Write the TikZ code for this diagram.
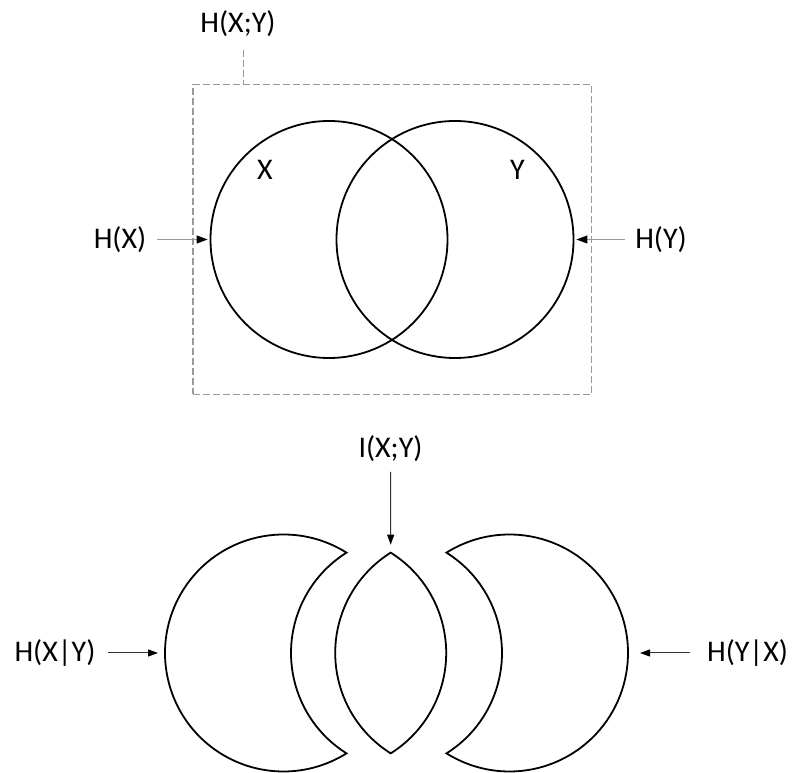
\documentclass[tikz,border=0pt]{standalone}
\usepackage{fontspec}
\setmainfont{Carlito}
\usetikzlibrary{arrows.meta}
\begin{document}
\begin{tikzpicture}[x=1pt,y=1pt,
  lbl/.style={font=\fontsize{30}{34}\selectfont, inner sep=0pt},
  venn/.style={circle, draw, line width=1.8pt, minimum size=237pt, inner sep=0pt},
  piece/.style={draw, line width=1.8pt, line join=miter},
  toparrow/.style={draw=black!40, line width=1pt, -{Triangle[length=11pt,width=8pt,black]}},
  botarrow/.style={draw=black!80, line width=1pt, -{Triangle[length=10pt,width=7pt,black]}},
  frame/.style={draw=black!40, line width=1.3pt, dash pattern=on 7pt off 3pt}]
\useasboundingbox (0,0) rectangle (795,773);
% top figure
\node[frame, minimum width=398.4pt, minimum height=310pt, inner sep=0pt, anchor=south west] (box) at (192.3,378) {};
\node[lbl] (hxy) at (238,749) {H(X;Y)};
\coordinate (hxyfoot) at (243.3,723);
\draw[frame] (hxyfoot) -- (hxyfoot |- box.north);
\node[venn] (cx) at (329,533.5) {};
\node[venn] (cy) at (455,533.5) {};
\node[lbl] (lx) at (265,603) {X};
\node[lbl] (ly) at (517.5,603) {Y};
\node[lbl] (hx) at (120,533.5) {H(X)};
\node[lbl] (hy) at (661,533.5) {H(Y)};
\draw[toparrow, shorten >=2pt] (157,533.5) coordinate (hxs) -- (cx.west);
\draw[toparrow, shorten >=2pt] (625,533.5) coordinate (hys) -- (cy.east);
% bottom figure
\draw[piece] (283.5,120) ++(57.88:118.5) coordinate (ltop)
  arc[start angle=57.88, end angle=302.12, radius=118.5]
  arc[start angle=237.88, end angle=122.12, radius=118.5] -- cycle;
\draw[piece] (327.7,120) ++(57.88:118.5) coordinate (lenstop)
  arc[start angle=57.88, end angle=-57.88, radius=118.5]
  arc[start angle=237.88, end angle=122.12, radius=118.5] -- cycle;
\draw[piece] (509.5,120) ++(122.12:118.5) coordinate (rtop)
  arc[start angle=122.12, end angle=-122.12, radius=118.5]
  arc[start angle=-57.88, end angle=57.88, radius=118.5] -- cycle;
\coordinate (lout) at (165,120);
\coordinate (rout) at (628,120);
\node[lbl] (ixy) at (390.5,324) {I(X;Y)};
\node[lbl] (hxgy) at (55,120) {H(X|Y)};
\node[lbl] (hygx) at (747.5,120) {H(Y|X)};
\draw[botarrow] (390.5,301) coordinate (ixys) -- ([yshift=8pt]lenstop);
\draw[botarrow, shorten >=7pt] (108,120) coordinate (hxgys) -- (lout);
\draw[botarrow, shorten >=12pt] (690,120) coordinate (hygxs) -- (rout);
\end{tikzpicture}
\end{document}
